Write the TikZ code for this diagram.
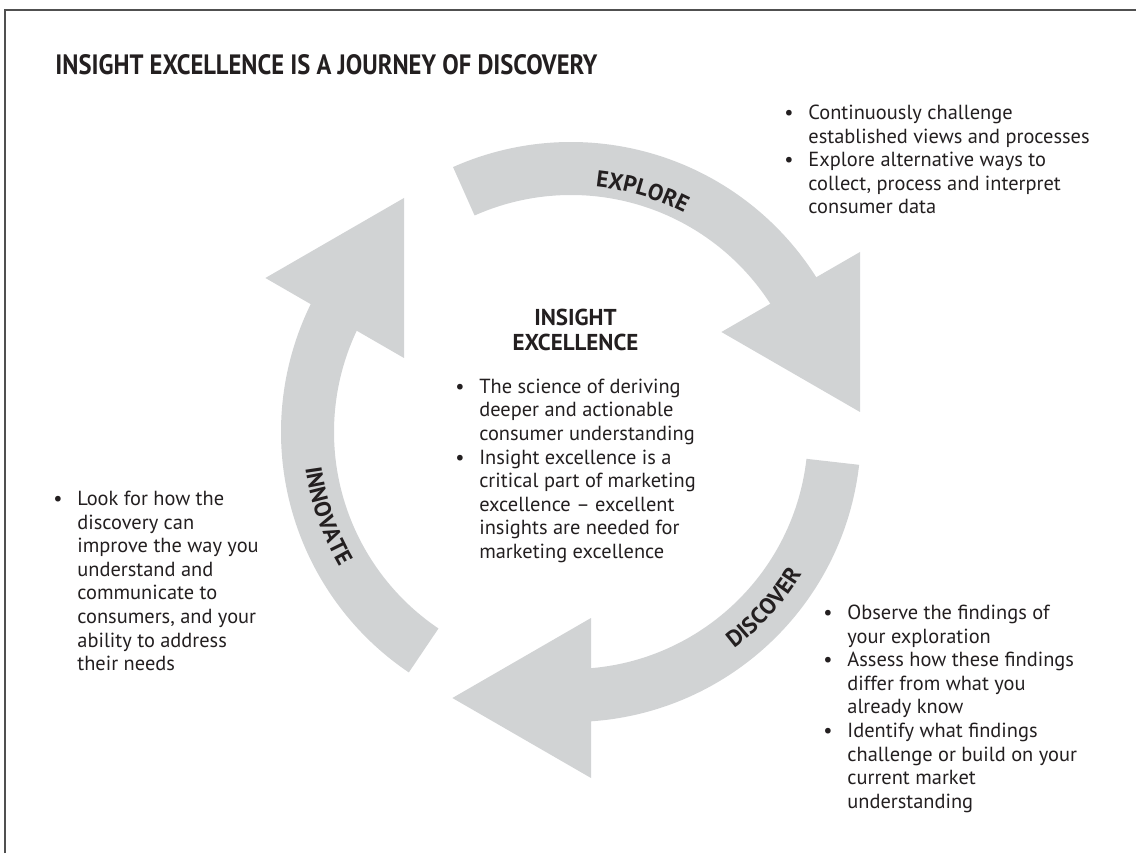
\documentclass[tikz,border=0pt]{standalone}
\usepackage{fontspec}
\setmainfont{PT Sans}
\usepackage{graphicx}
\usepackage{tikz}
\usetikzlibrary{positioning, decorations.text}
\usepackage{xcolor}
\definecolor{bandgray}{RGB}{209,211,212}
\definecolor{ink}{RGB}{35,31,32}
\definecolor{framegray}{RGB}{80,80,80}
\newcommand{\blurbfont}{\fontsize{10.2}{11.8}\selectfont}
\newcommand{\headfont}{\fontsize{11.5}{12.5}\selectfont\bfseries}
\newcommand{\titlefont}{\fontsize{14}{16}\selectfont\bfseries}
\newcommand{\bul}{\textbullet}

\begin{document}
\begin{tikzpicture}[
x=0.5pt, y=0.5pt,
node distance=12.75pt,
band/.style={fill=bandgray},
blurb/.style={anchor=north west,
inner sep=0pt,
font=\blurbfont,
text=ink},
arclabel/.style={decorate,
decoration={text along path,
text align=center,
text color=ink,
text={|\headfont|#1}}}
]

\useasboundingbox (0,0) rectangle (1136,853);
\draw[framegray, line width=1pt] (5,0) |- (1136,843);

\node[anchor=base west, inner sep=0pt, font=\titlefont, text=ink] (title) at (55,778) {\resizebox{271pt}{\height}{INSIGHT EXCELLENCE IS A JOURNEY OF DISCOVERY}};

\begin{scope}[shift={(571,421)}]
\foreach \a/\b in {114/20, -6.5/-92, 236/142}
  \fill[band] (\a:290) arc[start angle=\a, end angle=\b, radius=290] -- (\b:237) arc[start angle=\b, end angle=\a, radius=237] -- cycle;
\end{scope}
\foreach \x/\y in {860/601, 591/235, 404/655}
  \fill[band] (\x,\y) -- ++(0,-160) -- ++(-138.6,80) -- cycle;

\begin{scope}[shift={(571,421)}]
\path[arclabel=EXPLORE] (113.5:246.5) arc[start angle=113.5, end angle=33.5, radius=246.5];
\path[arclabel=DISCOVER] (-82.3:271) arc[start angle=-82.3, end angle=-2.3, radius=271];
\path[arclabel=INNOVATE] (159:268) arc[start angle=159, end angle=239, radius=268];
\end{scope}

\node[font=\headfont, text=ink, align=center, inner sep=0pt, anchor=north] (insight) at (575.5,544.7) {INSIGHT\\EXCELLENCE};
\node[blurb, below=of insight] (insight-text) {\begin{tabular}{@{}p{12pt}@{}l@{}}
\bul & The science of deriving\\
 & deeper and actionable\\
 & consumer understanding\\
\bul & Insight excellence is a\\
 & critical part of marketing\\
 & excellence – excellent\\
 & insights are needed for\\
 & marketing excellence
\end{tabular}};

\node[blurb] (explore-text) at (784,750.5) {\begin{tabular}{@{}p{12pt}@{}l@{}}
\bul & Continuously challenge\\
 & established views and processes\\
\bul & Explore alternative ways to\\
 & collect, process and interpret\\
 & consumer data
\end{tabular}};

\node[blurb] (discover-text) at (823,250.5) {\begin{tabular}{@{}p{12pt}@{}l@{}}
\bul & Observe the findings of\\
 & your exploration\\
\bul & Assess how these findings\\
 & differ from what you\\
 & already know\\
\bul & Identify what findings\\
 & challenge or build on your\\
 & current market\\
 & understanding
\end{tabular}};

\node[blurb] (innovate-text) at (53,364.5) {\begin{tabular}{@{}p{12pt}@{}l@{}}
\bul & Look for how the\\
 & discovery can\\
 & improve the way you\\
 & understand and\\
 & communicate to\\
 & consumers, and your\\
 & ability to address\\
 & their needs
\end{tabular}};

\end{tikzpicture}
\end{document}
